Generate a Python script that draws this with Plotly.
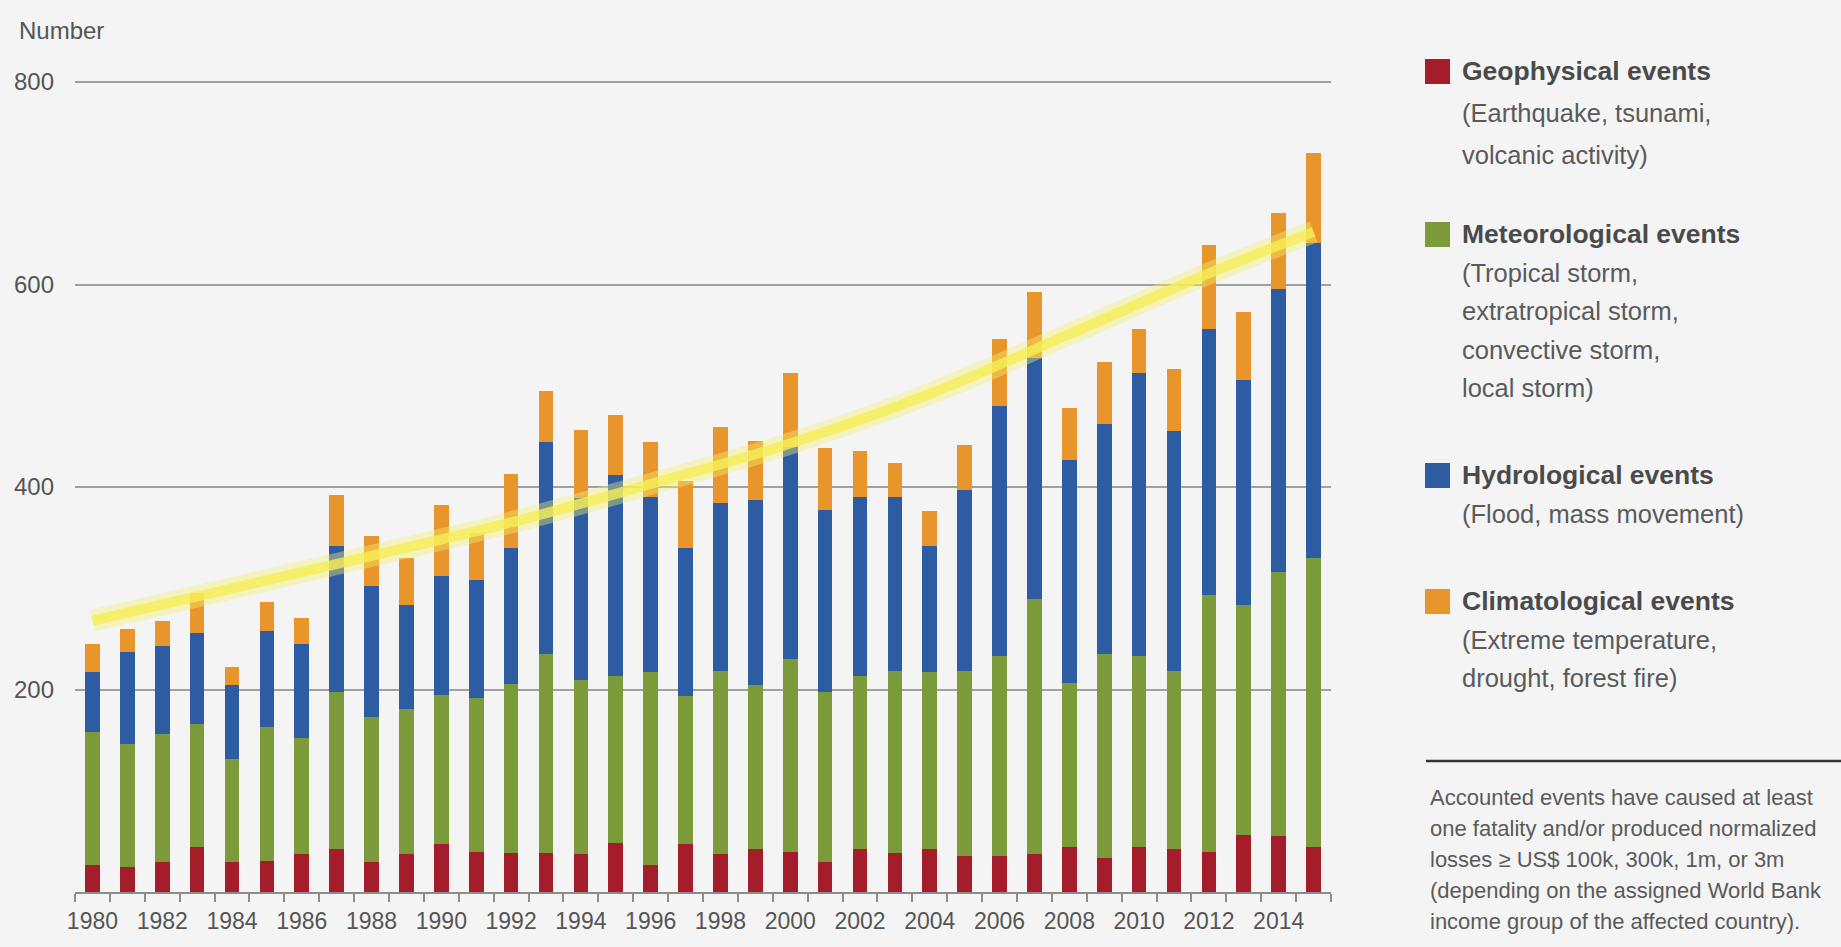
import plotly.graph_objects as go

# Number of natural loss events per year, split by event family
years = list(range(1980, 2016))

geophysical = [27, 25, 30, 44, 30, 31, 38, 42, 30, 38, 47, 40, 39, 39, 38, 48, 27, 47,
               38, 42, 40, 30, 42, 39, 42, 36, 36, 38, 44, 34, 44, 42, 40, 56, 55, 44]
meteorological = [131, 121, 126, 122, 101, 132, 114, 156, 143, 143, 148, 152, 166, 196, 171, 165, 190, 147,
                  180, 162, 190, 168, 171, 179, 175, 182, 197, 251, 162, 201, 189, 176, 253, 227, 261, 286]
hydrological = [59, 91, 87, 90, 73, 95, 93, 144, 129, 102, 117, 116, 135, 209, 180, 199, 173, 146,
                166, 183, 210, 179, 177, 172, 125, 179, 247, 238, 221, 227, 280, 237, 263, 223, 280, 311]
climatological = [28, 23, 25, 39, 18, 28, 26, 50, 50, 47, 70, 47, 73, 51, 67, 59, 54, 66,
                  75, 58, 73, 62, 46, 34, 34, 45, 66, 66, 51, 61, 43, 62, 83, 67, 75, 89]

# Trend curve through the totals
trend_years = [1980, 1984, 1988, 1992, 1996, 2000, 2004, 2008, 2012, 2015]
trend_values = [268, 300, 332, 365, 403, 443, 492, 551, 611, 652]

x_tick_labels = [str(y) for y in range(1980, 2016, 2)]
y_ticks = [200, 400, 600, 800]

series_names = ["Geophysical events", "Meteorological events",
                "Hydrological events", "Climatological events"]
series_desc = [
    ["(Earthquake, tsunami,", "volcanic activity)"],
    ["(Tropical storm,", "extratropical storm,", "convective storm,", "local storm)"],
    ["(Flood, mass movement)"],
    ["(Extreme temperature,", "drought, forest fire)"],
]
note_lines = [
    "Accounted events have caused at least",
    "one fatality and/or produced normalized",
    "losses \u2265 US$ 100k, 300k, 1m, or 3m",
    "(depending on the assigned World Bank",
    "income group of the affected country).",
]

colors = ["#a51d2b", "#7b9b3b", "#2d5ca3", "#e8962b"]
BG = "#f4f4f4"
FONT = "Liberation Sans, Arial, Helvetica, sans-serif"

W, H = 1841, 947
Y_TOP = 803                           # a little headroom so the 800 gridline is drawn
PL, PR, PB = 75, 1331, 892            # plot area in pixels
PT = PB - round((PB - 82) * Y_TOP / 800)


def px_x(px):
    return (px - PL) / (PR - PL)


def px_y(py):
    return (PB - py) / (PB - PT)


fig = go.Figure()
for name, vals, col in zip(series_names, [geophysical, meteorological, hydrological, climatological], colors):
    fig.add_trace(go.Bar(x=years, y=vals, name=name, marker=dict(color=col, line=dict(width=0)),
                         width=0.42, showlegend=False))

# highlighter-style trend line: soft halo plus core
fig.add_trace(go.Scatter(x=trend_years, y=trend_values, mode="lines",
                         line=dict(color="rgba(246,240,110,0.40)", width=22, shape="spline", smoothing=1.0),
                         showlegend=False, hoverinfo="skip"))
fig.add_trace(go.Scatter(x=trend_years, y=trend_values, mode="lines",
                         line=dict(color="rgba(245,238,85,0.80)", width=10, shape="spline", smoothing=1.0),
                         showlegend=False, hoverinfo="skip"))

annotations = []
shapes = []

annotations.append(dict(text="Number", x=px_x(17), y=px_y(31), xref="paper", yref="paper",
                        xanchor="left", yanchor="middle", showarrow=False,
                        font=dict(size=24, color="#555555", family=FONT)))

# side legend: colour square, bold title, grey description lines
title_y = [71, 234, 475, 601]
line_gap = [42, 38.5, 38.5, 38.5]
for i, name in enumerate(series_names):
    ty = title_y[i]
    shapes.append(dict(type="rect", xref="paper", yref="paper",
                       x0=px_x(1425), x1=px_x(1450), y0=px_y(ty - 12), y1=px_y(ty + 13),
                       fillcolor=colors[i], line=dict(width=0)))
    annotations.append(dict(text="<b>" + name + "</b>", x=px_x(1460), y=px_y(ty),
                            xref="paper", yref="paper", xanchor="left", yanchor="middle",
                            showarrow=False, font=dict(size=26.5, color="#4a4a4a", family=FONT)))
    for j, line in enumerate(series_desc[i]):
        annotations.append(dict(text=line, x=px_x(1460), y=px_y(ty + line_gap[i] * (j + 1)),
                                xref="paper", yref="paper", xanchor="left", yanchor="middle",
                                showarrow=False, font=dict(size=25.5, color="#5a5a5a", family=FONT)))

shapes.append(dict(type="line", xref="paper", yref="paper",
                   x0=px_x(1426), x1=px_x(1841), y0=px_y(761), y1=px_y(761),
                   line=dict(color="#333333", width=2.5)))

for k, line in enumerate(note_lines):
    annotations.append(dict(text=line, x=px_x(1428), y=px_y(797 + 31 * k),
                            xref="paper", yref="paper", xanchor="left", yanchor="middle",
                            showarrow=False, font=dict(size=22, color="#5a5a5a", family=FONT)))

fig.update_layout(
    width=W, height=H,
    margin=dict(l=PL, r=W - PR, t=PT, b=H - PB, autoexpand=False),
    paper_bgcolor=BG, plot_bgcolor=BG,
    barmode="stack",
    font=dict(family=FONT, color="#555555"),
    annotations=annotations, shapes=shapes,
    showlegend=False,
)

fig.update_xaxes(
    range=[1979.5, 2015.5],
    tickmode="array", tickvals=list(range(1980, 2016, 2)), ticktext=x_tick_labels,
    ticks="", ticklabelstandoff=8,
    tickfont=dict(size=23, color="#555555", family=FONT),
    showgrid=False, zeroline=False,
    showline=True, linecolor="#8c8c8c", linewidth=1.5,
    minor=dict(tickmode="array", tickvals=[y - 0.5 for y in years] + [2015.5],
               ticks="outside", ticklen=8, tickwidth=1.5, tickcolor="#8c8c8c", showgrid=False),
)

fig.update_yaxes(
    range=[0, Y_TOP],
    tickmode="array", tickvals=y_ticks, ticktext=[str(v) for v in y_ticks],
    ticks="", ticklabelstandoff=20,
    tickfont=dict(size=24, color="#555555", family=FONT),
    showgrid=True, gridcolor="#a0a0a0", gridwidth=1.5,
    zeroline=False, showline=False,
)

fig.write_html("out.html")
